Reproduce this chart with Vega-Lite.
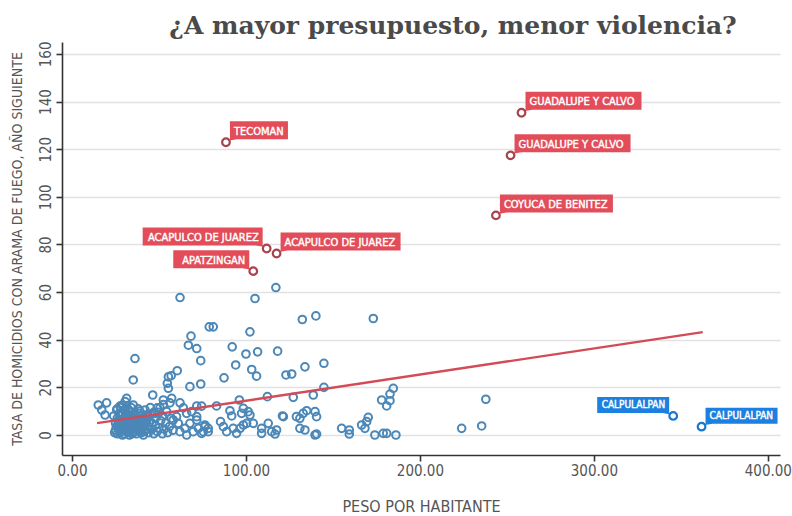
{
  "$schema": "https://vega.github.io/schema/vega-lite/v6.json",
  "autosize": {"type": "none"},
  "width": 718,
  "height": 413,
  "padding": {"left": 62, "top": 42, "right": 12, "bottom": 61},
  "background": "white",
  "title": {
    "text": "¿A mayor presupuesto, menor violencia?",
    "font": "DejaVu Serif",
    "fontWeight": "bold",
    "fontSize": 25,
    "color": "#4a4a4a",
    "anchor": "middle",
    "dx": 32,
    "offset": 2
  },
  "config": {
    "view": {"stroke": null},
    "axis": {
      "labelFont": "DejaVu Sans Condensed",
      "titleFont": "DejaVu Sans Condensed",
      "labelColor": "#555555",
      "titleColor": "#555555",
      "titleFontWeight": "normal",
      "domainColor": "#333333",
      "domainWidth": 1.6,
      "tickColor": "#333333",
      "tickWidth": 1.6,
      "tickSize": 6
    }
  },
  "datasets": {
    "puntos": [
      {"peso": 88.5, "tasa": 122.9, "municipio": "TECOMAN"},
      {"peso": 111.9, "tasa": 78.3, "municipio": "ACAPULCO DE JUAREZ"},
      {"peso": 117.6, "tasa": 76.2, "municipio": "ACAPULCO DE JUAREZ"},
      {"peso": 104.2, "tasa": 68.8, "municipio": "APATZINGAN"},
      {"peso": 258.4, "tasa": 135.3, "municipio": "GUADALUPE Y CALVO"},
      {"peso": 252.1, "tasa": 117.4, "municipio": "GUADALUPE Y CALVO"},
      {"peso": 243.7, "tasa": 92.2, "municipio": "COYUCA DE BENITEZ"},
      {"peso": 345.6, "tasa": 8.0, "municipio": "CALPULALPAN"},
      {"peso": 361.9, "tasa": 3.5, "municipio": "CALPULALPAN"},
      {"peso": 62.1, "tasa": 57.7}, {"peso": 68.4, "tasa": 41.5}, {"peso": 66.9, "tasa": 37.7},
      {"peso": 71.7, "tasa": 36.3}, {"peso": 78.9, "tasa": 45.4}, {"peso": 36.2, "tasa": 32.1},
      {"peso": 74.0, "tasa": 31.2}, {"peso": 60.5, "tasa": 27.0}, {"peso": 55.4, "tasa": 24.4},
      {"peso": 57.0, "tasa": 24.9}, {"peso": 54.8, "tasa": 21.7}, {"peso": 55.4, "tasa": 19.6},
      {"peso": 35.2, "tasa": 23.1}, {"peso": 67.8, "tasa": 20.3}, {"peso": 74.0, "tasa": 21.4},
      {"peso": 46.4, "tasa": 16.8}, {"peso": 15.1, "tasa": 12.6}, {"peso": 19.9, "tasa": 13.5},
      {"peso": 17.1, "tasa": 10.5}, {"peso": 19.0, "tasa": 8.4}, {"peso": 31.4, "tasa": 15.4},
      {"peso": 30.5, "tasa": 14.0}, {"peso": 35.2, "tasa": 12.6}, {"peso": 52.5, "tasa": 14.7},
      {"peso": 57.3, "tasa": 15.4}, {"peso": 117.2, "tasa": 61.9}, {"peso": 105.2, "tasa": 57.3},
      {"peso": 81.2, "tasa": 45.4}, {"peso": 102.3, "tasa": 43.3}, {"peso": 132.4, "tasa": 48.5},
      {"peso": 140.2, "tasa": 50.0}, {"peso": 92.1, "tasa": 37.0}, {"peso": 100.0, "tasa": 34.0},
      {"peso": 106.7, "tasa": 34.9}, {"peso": 118.2, "tasa": 35.2}, {"peso": 94.1, "tasa": 29.4},
      {"peso": 103.3, "tasa": 27.5}, {"peso": 106.1, "tasa": 24.7}, {"peso": 87.4, "tasa": 24.0},
      {"peso": 123.0, "tasa": 25.2}, {"peso": 126.3, "tasa": 25.6}, {"peso": 133.9, "tasa": 28.6},
      {"peso": 144.8, "tasa": 30.1}, {"peso": 96.2, "tasa": 14.7}, {"peso": 112.3, "tasa": 16.1},
      {"peso": 127.2, "tasa": 15.8}, {"peso": 138.7, "tasa": 16.8}, {"peso": 144.8, "tasa": 20.0},
      {"peso": 83.1, "tasa": 12.2}, {"peso": 90.8, "tasa": 10.2}, {"peso": 91.8, "tasa": 8.0},
      {"peso": 98.5, "tasa": 11.2}, {"peso": 97.5, "tasa": 9.1}, {"peso": 101.3, "tasa": 9.8},
      {"peso": 102.3, "tasa": 8.4}, {"peso": 121.5, "tasa": 7.7}, {"peso": 131.0, "tasa": 7.0},
      {"peso": 132.9, "tasa": 9.1}, {"peso": 134.9, "tasa": 10.2}, {"peso": 139.7, "tasa": 9.8},
      {"peso": 140.6, "tasa": 7.7}, {"peso": 85.4, "tasa": 5.6}, {"peso": 87.0, "tasa": 3.5},
      {"peso": 88.9, "tasa": 1.4}, {"peso": 92.7, "tasa": 2.8}, {"peso": 94.6, "tasa": 0.7},
      {"peso": 96.6, "tasa": 2.8}, {"peso": 98.5, "tasa": 4.2}, {"peso": 100.4, "tasa": 4.9},
      {"peso": 104.2, "tasa": 4.9}, {"peso": 109.0, "tasa": 2.8}, {"peso": 109.0, "tasa": 0.7},
      {"peso": 112.8, "tasa": 4.9}, {"peso": 114.8, "tasa": 1.4}, {"peso": 116.7, "tasa": 0.4},
      {"peso": 117.6, "tasa": 2.1}, {"peso": 131.0, "tasa": 2.8}, {"peso": 133.9, "tasa": 2.1},
      {"peso": 139.7, "tasa": 0.0}, {"peso": 140.6, "tasa": 0.4}, {"peso": 75.5, "tasa": 1.4},
      {"peso": 78.3, "tasa": 2.8}, {"peso": 76.4, "tasa": 4.2}, {"peso": 173.2, "tasa": 48.9},
      {"peso": 184.7, "tasa": 19.6}, {"peso": 182.8, "tasa": 17.2}, {"peso": 178.0, "tasa": 14.7},
      {"peso": 182.8, "tasa": 14.4}, {"peso": 180.9, "tasa": 12.2}, {"peso": 170.3, "tasa": 7.4},
      {"peso": 169.4, "tasa": 5.6}, {"peso": 166.5, "tasa": 4.2}, {"peso": 168.4, "tasa": 2.8},
      {"peso": 155.0, "tasa": 2.8}, {"peso": 159.4, "tasa": 2.1}, {"peso": 159.4, "tasa": 0.4},
      {"peso": 174.1, "tasa": 0.0}, {"peso": 178.9, "tasa": 0.7}, {"peso": 180.9, "tasa": 0.7},
      {"peso": 186.2, "tasa": 0.0}, {"peso": 237.9, "tasa": 15.0}, {"peso": 224.0, "tasa": 2.8},
      {"peso": 235.5, "tasa": 3.8}, {"peso": 121.0, "tasa": 8.0}, {"peso": 129.0, "tasa": 7.7},
      {"peso": 58.2, "tasa": 6.3}, {"peso": 61.1, "tasa": 4.9}, {"peso": 62.1, "tasa": 1.4},
      {"peso": 64.9, "tasa": 2.8}, {"peso": 65.9, "tasa": 0.0}, {"peso": 67.8, "tasa": 4.9},
      {"peso": 69.7, "tasa": 1.4}, {"peso": 71.7, "tasa": 6.3}, {"peso": 72.6, "tasa": 2.8},
      {"peso": 74.5, "tasa": 0.7}, {"peso": 76.4, "tasa": 3.5}, {"peso": 78.3, "tasa": 1.4},
      {"peso": 62.1, "tasa": 13.5}, {"peso": 65.9, "tasa": 9.1}, {"peso": 68.8, "tasa": 9.8},
      {"peso": 71.7, "tasa": 7.7}, {"peso": 74.5, "tasa": 12.1}, {"peso": 71.7, "tasa": 12.1},
      {"peso": 64.0, "tasa": 11.4}, {"peso": 60.1, "tasa": 7.7}, {"peso": 54.4, "tasa": 9.8},
      {"peso": 50.6, "tasa": 11.4}, {"peso": 47.7, "tasa": 9.1}, {"peso": 42.9, "tasa": 7.7},
      {"peso": 38.1, "tasa": 9.1}, {"peso": 40.0, "tasa": 6.3}, {"peso": 33.3, "tasa": 9.8},
      {"peso": 31.4, "tasa": 12.1}, {"peso": 27.6, "tasa": 12.1}, {"peso": 25.7, "tasa": 10.6},
      {"peso": 49.0, "tasa": 11.4}, {"peso": 56.3, "tasa": 13.5}, {"peso": 52.5, "tasa": 12.8},
      {"peso": 24.0, "tasa": 8.0}, {"peso": 25.0, "tasa": 5.0}, {"peso": 25.0, "tasa": 2.0},
      {"peso": 26.0, "tasa": 7.0}, {"peso": 26.0, "tasa": 0.5}, {"peso": 27.0, "tasa": 3.5},
      {"peso": 27.0, "tasa": 9.0}, {"peso": 28.0, "tasa": 1.5}, {"peso": 28.0, "tasa": 6.0},
      {"peso": 29.0, "tasa": 4.0}, {"peso": 29.0, "tasa": 8.5}, {"peso": 30.0, "tasa": 0.5},
      {"peso": 30.0, "tasa": 2.5}, {"peso": 30.0, "tasa": 6.5}, {"peso": 31.0, "tasa": 5.0},
      {"peso": 31.0, "tasa": 9.5}, {"peso": 32.0, "tasa": 1.0}, {"peso": 32.0, "tasa": 3.0},
      {"peso": 32.0, "tasa": 7.5}, {"peso": 33.0, "tasa": 4.5}, {"peso": 33.0, "tasa": 0.0},
      {"peso": 33.0, "tasa": 10.0}, {"peso": 34.0, "tasa": 2.0}, {"peso": 34.0, "tasa": 6.0},
      {"peso": 34.0, "tasa": 8.0}, {"peso": 35.0, "tasa": 3.5}, {"peso": 35.0, "tasa": 1.0},
      {"peso": 36.0, "tasa": 5.5}, {"peso": 36.0, "tasa": 7.0}, {"peso": 36.0, "tasa": 9.0},
      {"peso": 37.0, "tasa": 2.5}, {"peso": 37.0, "tasa": 0.5}, {"peso": 38.0, "tasa": 4.0},
      {"peso": 38.0, "tasa": 6.5}, {"peso": 39.0, "tasa": 1.5}, {"peso": 39.0, "tasa": 8.0},
      {"peso": 40.0, "tasa": 3.0}, {"peso": 40.0, "tasa": 5.0}, {"peso": 41.0, "tasa": 0.0},
      {"peso": 41.0, "tasa": 7.0}, {"peso": 42.0, "tasa": 2.0}, {"peso": 42.0, "tasa": 4.5},
      {"peso": 43.0, "tasa": 6.0}, {"peso": 44.0, "tasa": 1.0}, {"peso": 44.0, "tasa": 3.5},
      {"peso": 45.0, "tasa": 8.5}, {"peso": 46.0, "tasa": 2.5}, {"peso": 46.0, "tasa": 5.0},
      {"peso": 47.0, "tasa": 0.5}, {"peso": 48.0, "tasa": 4.0}, {"peso": 48.0, "tasa": 7.0},
      {"peso": 49.0, "tasa": 1.5}, {"peso": 50.0, "tasa": 3.0}, {"peso": 51.0, "tasa": 6.0},
      {"peso": 52.0, "tasa": 0.5}, {"peso": 52.0, "tasa": 8.0}, {"peso": 53.0, "tasa": 2.5},
      {"peso": 54.0, "tasa": 5.0}, {"peso": 55.0, "tasa": 1.0}, {"peso": 56.0, "tasa": 3.5},
      {"peso": 57.0, "tasa": 7.0}, {"peso": 58.0, "tasa": 2.0}, {"peso": 26.0, "tasa": 11.0},
      {"peso": 28.0, "tasa": 11.5}, {"peso": 29.0, "tasa": 12.5}, {"peso": 31.0, "tasa": 11.0},
      {"peso": 34.0, "tasa": 11.5}, {"peso": 38.0, "tasa": 11.0}, {"peso": 42.0, "tasa": 10.5},
      {"peso": 45.0, "tasa": 11.5}, {"peso": 50.0, "tasa": 9.5}, {"peso": 39.0, "tasa": 10.0},
      {"peso": 36.0, "tasa": 3.0}, {"peso": 31.0, "tasa": 3.0}, {"peso": 27.0, "tasa": 5.5},
      {"peso": 29.0, "tasa": 0.0}, {"peso": 35.0, "tasa": 6.5}, {"peso": 40.0, "tasa": 1.0},
      {"peso": 43.0, "tasa": 8.5}, {"peso": 47.0, "tasa": 9.5}, {"peso": 33.0, "tasa": 7.0},
      {"peso": 37.0, "tasa": 8.0}, {"peso": 30.0, "tasa": 10.5},
      {"peso": 25.5, "tasa": 3.5}, {"peso": 26.5, "tasa": 6.0}, {"peso": 27.5, "tasa": 1.0},
      {"peso": 28.5, "tasa": 4.5}, {"peso": 29.5, "tasa": 2.0}, {"peso": 30.5, "tasa": 8.0},
      {"peso": 31.5, "tasa": 1.5}, {"peso": 32.5, "tasa": 5.5}, {"peso": 33.5, "tasa": 3.0},
      {"peso": 34.5, "tasa": 0.5}, {"peso": 35.5, "tasa": 4.5}, {"peso": 36.5, "tasa": 1.5},
      {"peso": 37.5, "tasa": 6.0}, {"peso": 38.5, "tasa": 2.5}, {"peso": 39.5, "tasa": 5.0},
      {"peso": 40.5, "tasa": 3.5}, {"peso": 41.5, "tasa": 1.5}, {"peso": 42.5, "tasa": 6.5},
      {"peso": 43.5, "tasa": 2.5}, {"peso": 44.5, "tasa": 5.5}, {"peso": 28.5, "tasa": 9.5},
      {"peso": 32.5, "tasa": 10.5}, {"peso": 35.5, "tasa": 8.5}, {"peso": 26.5, "tasa": 4.0},
      {"peso": 24.5, "tasa": 1.0}
    ],
    "tendencia": [
      {"peso": 14.4, "tasa": 5.0},
      {"peso": 362.6, "tasa": 43.2}
    ]
  },
  "encoding": {
    "x": {
      "field": "peso", "type": "quantitative",
      "scale": {"domain": [-5.75, 407], "nice": false, "zero": false},
      "axis": {
        "title": "PESO POR HABITANTE",
        "values": [0, 100, 200, 300, 400],
        "format": ".2f",
        "grid": false,
        "labelFontSize": 15,
        "labelPadding": 2,
        "titleFontSize": 16,
        "titlePadding": 20
      }
    },
    "y": {
      "field": "tasa", "type": "quantitative",
      "scale": {"domain": [-8.4, 165], "nice": false, "zero": false},
      "axis": {
        "title": "TASA DE HOMICIDIOS CON ARAMA DE FUEGO, AÑO SIGUIENTE",
        "values": [0, 20, 40, 60, 80, 100, 120, 140, 160],
        "grid": true,
        "gridColor": "#e2e2e2",
        "gridWidth": 1.5,
        "labelAngle": -90,
        "labelFontSize": 15,
        "labelPadding": 3,
        "titleFontSize": 14,
        "titlePadding": 14
      }
    }
  },
  "layer": [
    {
      "data": {"name": "puntos"},
      "transform": [{"filter": "!datum.municipio"}],
      "mark": {"type": "point", "filled": false, "size": 58, "strokeWidth": 2, "color": "#4b87b7", "opacity": 1}
    },
    {
      "data": {"name": "tendencia"},
      "mark": {"type": "line", "color": "#d24b57", "strokeWidth": 2.4}
    },
    {
      "data": {"name": "puntos"},
      "transform": [{"filter": "datum.municipio && !(datum.municipio=='APATZINGAN' || (datum.municipio=='ACAPULCO DE JUAREZ' && datum.peso<115) || (datum.municipio=='CALPULALPAN' && datum.peso<355))"}],
      "mark": {"type": "point", "filled": true, "size": 10000, "strokeWidth": 0, "opacity": 1},
      "encoding": {
        "shape": {
          "field": "municipio", "type": "nominal", "legend": null,
          "scale": {
            "domain": ["TECOMAN", "ACAPULCO DE JUAREZ", "GUADALUPE Y CALVO", "COYUCA DE BENITEZ", "CALPULALPAN"],
            "range": [
              "M0.08,-0.42H1.24V-0.06H0.22L0.04,-0.03L0.08,-0.06Z",
              "M0.08,-0.42H2.48V-0.06H0.22L0.04,-0.03L0.08,-0.06Z",
              "M0.08,-0.42H2.4V-0.06H0.22L0.04,-0.03L0.08,-0.06Z",
              "M0.08,-0.42H2.34V-0.06H0.22L0.04,-0.03L0.08,-0.06Z",
              "M0.08,-0.38H1.52V-0.06H0.22L0.04,-0.03L0.08,-0.06Z"
            ]
          }
        },
        "color": {"condition": {"test": "datum.tasa > 50", "value": "#e34d5a"}, "value": "#1b80e0"}
      }
    },
    {
      "data": {"name": "puntos"},
      "transform": [{"filter": "datum.municipio=='APATZINGAN' || (datum.municipio=='ACAPULCO DE JUAREZ' && datum.peso<115) || (datum.municipio=='CALPULALPAN' && datum.peso<355)"}],
      "mark": {"type": "point", "filled": true, "size": 10000, "strokeWidth": 0, "opacity": 1},
      "encoding": {
        "shape": {
          "field": "municipio", "type": "nominal", "legend": null,
          "scale": {
            "domain": ["ACAPULCO DE JUAREZ", "APATZINGAN", "CALPULALPAN"],
            "range": [
              "M-0.08,-0.42H-2.48V-0.06H-0.22L-0.04,-0.03L-0.08,-0.06Z",
              "M-0.08,-0.42H-1.6V-0.06H-0.22L-0.04,-0.03L-0.08,-0.06Z",
              "M-0.08,-0.38H-1.52V-0.06H-0.22L-0.04,-0.03L-0.08,-0.06Z"
            ]
          }
        },
        "color": {"condition": {"test": "datum.tasa > 50", "value": "#e34d5a"}, "value": "#1b80e0"}
      }
    },
    {
      "data": {"name": "puntos"},
      "transform": [{"filter": "datum.municipio"}],
      "mark": {"type": "point", "fill": "white", "size": 58, "strokeWidth": 2.2, "opacity": 1},
      "encoding": {
        "stroke": {"condition": {"test": "datum.tasa > 50", "value": "#a8434e"}, "value": "#1a78d0"}
      }
    },
    {
      "data": {"name": "puntos"},
      "transform": [{"filter": "datum.municipio && !(datum.municipio=='APATZINGAN' || (datum.municipio=='ACAPULCO DE JUAREZ' && datum.peso<115) || (datum.municipio=='CALPULALPAN' && datum.peso<355))"}],
      "mark": {"type": "text", "align": "left", "baseline": "alphabetic", "dx": 8, "dy": -7.5, "font": "DejaVu Sans Condensed", "fontWeight": "normal", "color": "white", "stroke": "white", "strokeWidth": 0.4},
      "encoding": {
        "text": {"field": "municipio"},
        "size": {"condition": {"test": "datum.tasa < 50", "value": 10}, "value": 11}
      }
    },
    {
      "data": {"name": "puntos"},
      "transform": [{"filter": "datum.municipio=='APATZINGAN' || (datum.municipio=='ACAPULCO DE JUAREZ' && datum.peso<115) || (datum.municipio=='CALPULALPAN' && datum.peso<355)"}],
      "mark": {"type": "text", "align": "right", "baseline": "alphabetic", "dx": -8, "dy": -7.5, "font": "DejaVu Sans Condensed", "fontWeight": "normal", "color": "white", "stroke": "white", "strokeWidth": 0.4},
      "encoding": {
        "text": {"field": "municipio"},
        "size": {"condition": {"test": "datum.tasa < 50", "value": 10}, "value": 11}
      }
    }
  ],
  "resolve": {"scale": {"shape": "independent"}}
}
